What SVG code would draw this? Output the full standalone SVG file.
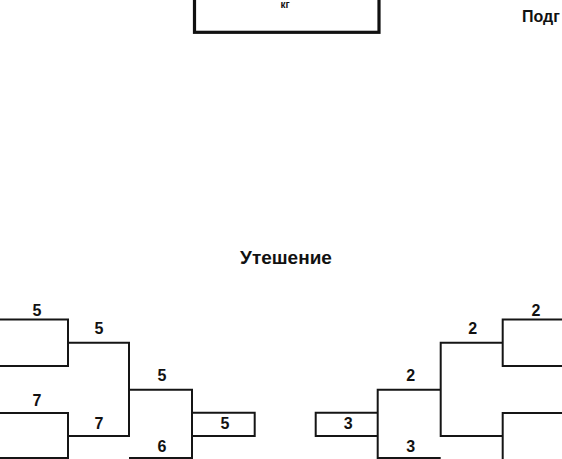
<svg xmlns="http://www.w3.org/2000/svg" width="562" height="459" viewBox="0 0 562 459">
<style>
.ln{fill:none;stroke:#151515;stroke-width:2}
.box{fill:none;stroke:#111;stroke-width:3.2}
.n{font-family:"Liberation Sans",Arial,sans-serif;font-weight:bold;font-size:16px;fill:#111;text-anchor:middle}
.t{font-family:"Liberation Sans",Arial,sans-serif;font-weight:bold;fill:#111}
</style>
<rect width="562" height="459" fill="#fff"/>
<g id="weight-box">
<rect class="box" x="194.5" y="-10" width="184.5" height="42.3"/>
<text class="t" x="285" y="8" font-size="10" text-anchor="middle">кг</text>
</g>
<g id="subgroup-label">
<text class="t" x="522" y="22" font-size="16">Подг</text>
</g>
<g id="title">
<text class="t" x="286" y="264" font-size="19" text-anchor="middle">Утешение</text>
</g>
<g id="connectors">
<path class="ln" d="M0 319.5H68V366H0"/>
<path class="ln" d="M68 342.7H129V436H68"/>
<path class="ln" d="M0 413H68V459"/>
<path class="ln" d="M129 389.7H192V459"/>
<path class="ln" d="M0 458H68M129 458H192"/>
<path class="ln" d="M562 319.5H502.7V366H562"/>
<path class="ln" d="M502.7 342.7H440.7V436H502.7"/>
<path class="ln" d="M562 413H502.7V459"/>
<path class="ln" d="M440.7 389.7H377.7V459"/>
<path class="ln" d="M377.7 458H440.7"/>
</g>
<g id="left-final">
<path class="ln" d="M192 412.7H254.7V436H192"/>
<text class="n" x="225" y="428.5">5</text>
</g>
<g id="right-final">
<path class="ln" d="M377.7 412.7H315.7V436H377.7"/>
<text class="n" x="348.3" y="428.5">3</text>
</g>
<g id="left-labels">
<text class="n" x="37" y="315.5">5</text>
<text class="n" x="99" y="334">5</text>
<text class="n" x="162" y="381">5</text>
<text class="n" x="37" y="406">7</text>
<text class="n" x="99" y="428.5">7</text>
<text class="n" x="162" y="452">6</text>
</g>
<g id="right-labels">
<text class="n" x="536" y="315.5">2</text>
<text class="n" x="472.7" y="334">2</text>
<text class="n" x="410.7" y="381">2</text>
<text class="n" x="410.7" y="452">3</text>
</g>
</svg>
